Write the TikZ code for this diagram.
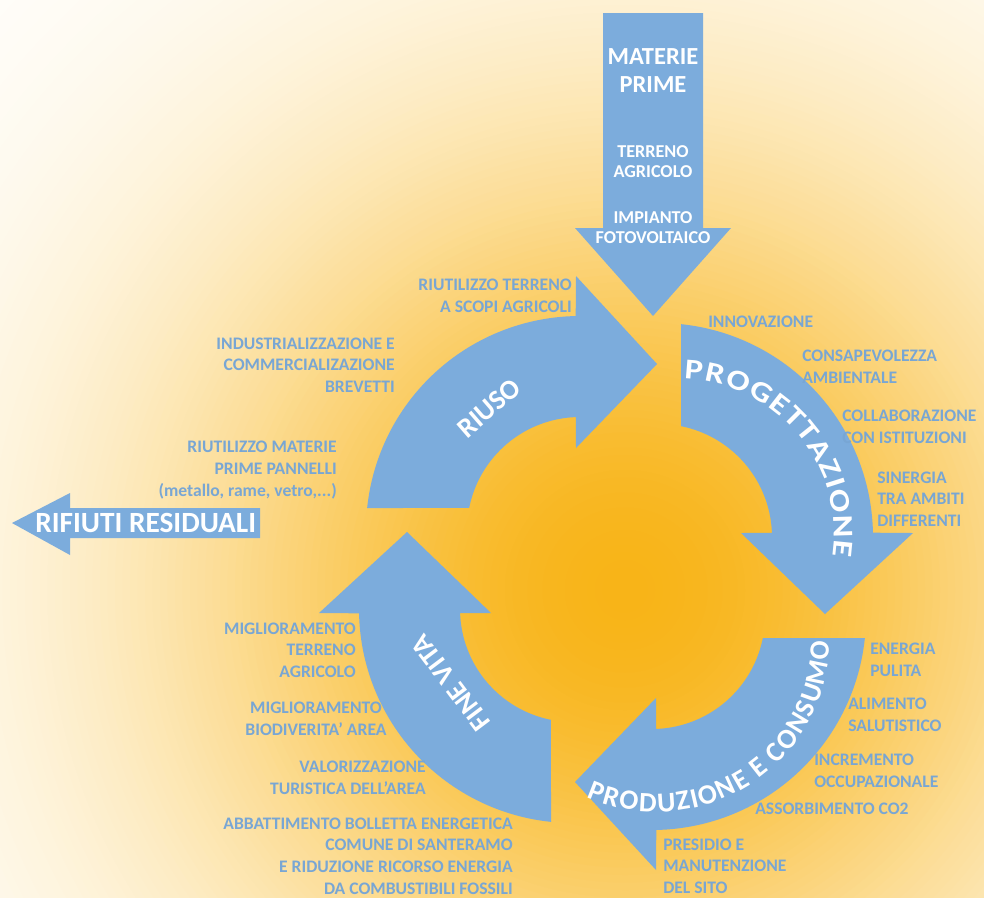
\documentclass[tikz,border=0pt]{standalone}
\usepackage{fontspec}
\setmainfont{Carlito}
\newfontfamily\wideCarlito{Carlito Bold}[FakeStretch=1.2]
\usetikzlibrary{decorations.text}
\definecolor{arrowblue}{RGB}{124,172,220}
\definecolor{labelblue}{RGB}{120,166,212}
\definecolor{bgorange}{RGB}{248,180,24}
\newcommand\ArrowFont{\color{white}\bfseries\fontsize{21}{21}\selectfont}
\newcommand\WideArrowFont{\color{white}\wideCarlito\fontsize{21.5}{21.5}\selectfont}
% one cycle arrow, drawn in its own frame (image coordinates, y downwards):
% centre of its arcs at the origin, tail on the left, head at the top
\newcommand\CycArrow{%
  \fill[arrowblue]
    plot[domain=0:1, samples=60, variable=\t]
      ({214*cos(185.9+83*\t)}, {214*sin(185.9+83*\t)})
    -- (-4,-254) -- (77,-166) -- (-4,-82)
    -- plot[domain=0:1, samples=60, variable=\t]
      ({113*cos(267.9-76.7*\t)}, {113*sin(267.9-76.7*\t)})
    -- cycle;}
\begin{document}
\begin{tikzpicture}[x=0.75pt, y=-0.75pt,
  lbl/.style={text=labelblue, font=\bfseries\fontsize{13.2}{16.2}\selectfont, inner sep=0pt},
  lblR/.style={lbl, align=right, anchor=east},
  lblL/.style={lbl, align=left, anchor=west},
  lblC/.style={lbl, align=center},
  whitetxt/.style={text=white, inner sep=0pt, align=center},
  arrowtxt/.style={text=white, inner sep=0pt, font=\bfseries\fontsize{21}{21}\selectfont}]
\useasboundingbox (0,0) rectangle (984,897);
% background: radial glow
\fill[white] (0,0) rectangle (984,897);
\begin{scope}
  \clip (0,0) rectangle (984,897);
  \foreach \i in {0,...,119}{%
    \pgfmathsetmacro\rr{900-7.5*\i}%
    \pgfmathsetmacro\rad{0.75*\rr}%
    \pgfmathsetmacro\pp{100*exp(-(\rr/460)^2)}%
    \fill[bgorange!\pp!white] (625,590) circle[radius=\rad pt];
  }
\end{scope}

% cycle arrows
\begin{scope}[shift={(580,530)}]\CycArrow\end{scope}
\begin{scope}[shift={(659,537)}, rotate=-90]\CycArrow\end{scope}
\begin{scope}[shift={(652,616)}, rotate=-180]\CycArrow\end{scope}
\begin{scope}[shift={(573,609)}, rotate=-270]\CycArrow\end{scope}

% input arrow
\fill[arrowblue] (603,13) -- (703,13) -- (703,228) -- (731,228) -- (653,316) -- (575,228) -- (603,228) -- cycle;
% output arrow
\fill[arrowblue] (12,523) -- (70,493) -- (70,508) -- (260,508) -- (260,538) -- (70,538) -- (70,555) -- cycle;

% texts in the straight arrows
\node[whitetxt, font=\bfseries\fontsize{18.4}{21}\selectfont] (mp) at (653,71) {MATERIE\\PRIME};
\node[whitetxt, font=\bfseries\fontsize{13.6}{15}\selectfont] (ta) at (653,162) {TERRENO\\AGRICOLO};
\node[whitetxt, font=\bfseries\fontsize{13.6}{15}\selectfont] (ifv) at (653,227.5) {IMPIANTO\\FOTOVOLTAICO};
\node[whitetxt, font=\bfseries\fontsize{22}{22}\selectfont, anchor=west] (rr) at (35,523) {RIFIUTI RESIDUALI};

% texts in the cycle arrows
\node[arrowtxt, rotate=41] (riuso) at (489,408) {RIUSO};
\node[arrowtxt, rotate=127] (finevita) at (451,683) {FINE VITA};
\path[decorate, decoration={text along path, text align=fit to path, text={|\WideArrowFont|PROGETTAZIONE}}]
  plot[domain=271.5:368.8, samples=80, variable=\a] ({680+154*cos(\a)}, {533+154*sin(\a)});
\path[decorate, decoration={text along path, text align=fit to path, text={|\ArrowFont|PRODUZIONE E CONSUMO}}]
  plot[domain=0:1, samples=100, variable=\t] ({657+173*cos(114.2-113.5*\t)}, {639+173*sin(114.2-113.5*\t)});

% labels left
\node[lblR] (l1) at (572,296) {RIUTILIZZO TERRENO\\A SCOPI AGRICOLI};
\node[lblR] (l2) at (395,365) {INDUSTRIALIZZAZIONE E\\COMMERCIALIZAZIONE\\BREVETTI};
\node[lblR] (l3) at (337,470) {RIUTILIZZO MATERIE\\PRIME PANNELLI\\(metallo, rame, vetro,...)};
\node[lblR] (l4) at (356,650) {MIGLIORAMENTO\\TERRENO\\AGRICOLO};
\node[lblC] (l5) at (316,719) {MIGLIORAMENTO\\BIODIVERITA’ AREA};
\node[lblR] (l6) at (426,778) {VALORIZZAZIONE\\TURISTICA DELL’AREA};
\node[lblR] (l7) at (513,856) {ABBATTIMENTO BOLLETTA ENERGETICA\\COMUNE DI SANTERAMO\\E RIDUZIONE RICORSO ENERGIA\\DA COMBUSTIBILI FOSSILI};

% labels right
\node[lblL] (r1) at (708,322) {INNOVAZIONE};
\node[lblL] (r2) at (802,367) {CONSAPEVOLEZZA\\AMBIENTALE};
\node[lblL] (r3) at (842,427) {COLLABORAZIONE\\CON ISTITUZIONI};
\node[lblL] (r4) at (877,499) {SINERGIA\\TRA AMBITI\\DIFFERENTI};
\node[lblL] (r5) at (870,660) {ENERGIA\\PULITA};
\node[lblL] (r6) at (848,715) {ALIMENTO\\SALUTISTICO};
\node[lblL] (r7) at (814,771) {INCREMENTO\\OCCUPAZIONALE};
\node[lblL] (r8) at (755,809) {ASSORBIMENTO CO2};
\node[lblL] (r9) at (663,866) {PRESIDIO E\\MANUTENZIONE\\DEL SITO};
\end{tikzpicture}
\end{document}
